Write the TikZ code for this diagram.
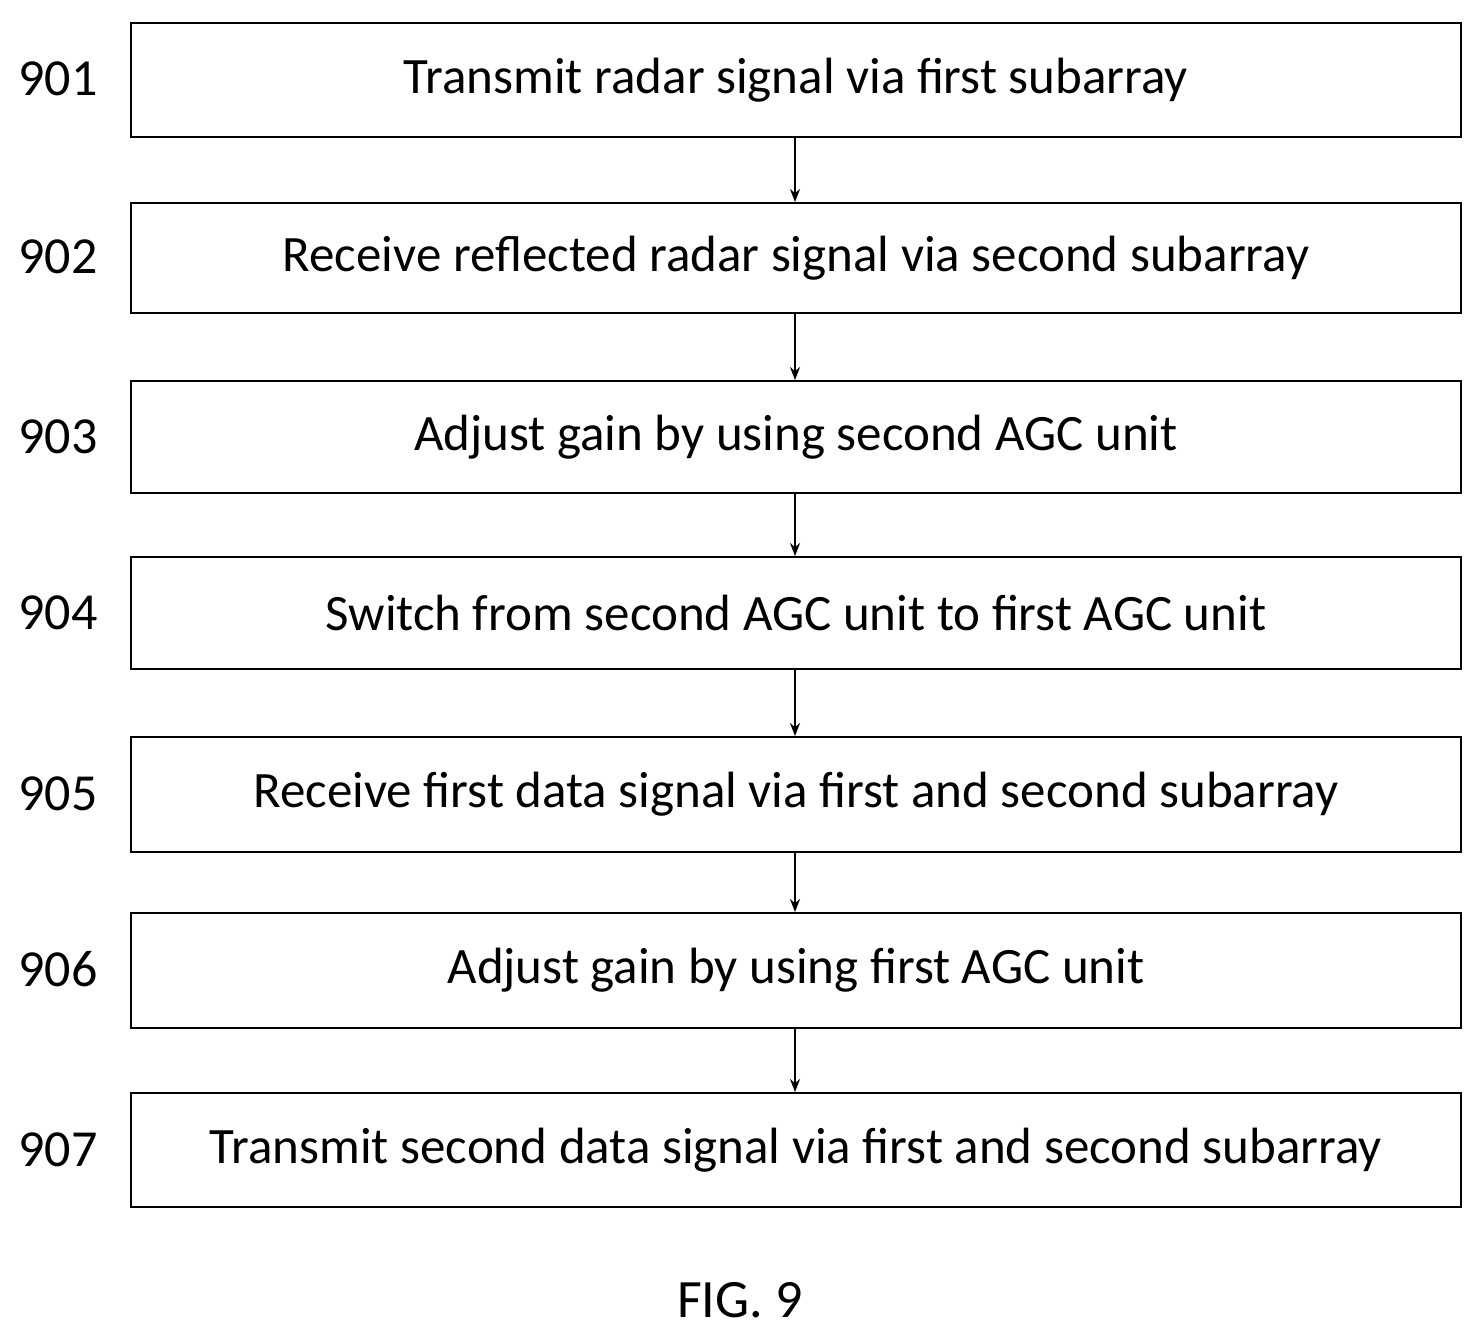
\documentclass[tikz,border=0pt]{standalone}
\usepackage{fontspec}
\setmainfont{Carlito}
\usetikzlibrary{arrows.meta}
\begin{document}
\begin{tikzpicture}[x=1pt,y=-1pt,
  box/.style={draw,line width=2pt,minimum width=1330pt,anchor=north west,inner sep=0pt,font=\fontsize{51}{58}\selectfont},
  lab/.style={font=\fontsize{52}{58}\selectfont,anchor=base},
  arr/.style={-{Stealth[length=13pt,width=10pt]},line width=2pt}]
\useasboundingbox (0,0) rectangle (1482,1337);
\foreach \i/\t/\b/\txt in {1/22/136/Transmit radar signal via first subarray,
2/202/312/Receive reflected radar signal via second subarray,
3/380/492/Adjust gain by using second AGC unit,
4/556/668/Switch from second AGC unit to first AGC unit,
5/736/851/Receive first data signal via first and second subarray,
6/912/1027/Adjust gain by using first AGC unit,
7/1092/1206/Transmit second data signal via first and second subarray}{
  \pgfmathsetmacro{\h}{\b-\t}
  \node[box,minimum height=\h pt] (b\i) at (130,\t) {\txt};
  \node[lab] (l\i) at (58,{(\t+\b)/2+17}) {90\i};
}
\foreach \a/\b in {1/2,2/3,3/4,4/5,5/6,6/7}{
  \draw[arr] (b\a.south -| 795,0) -- (b\b.north -| 795,0);
}
\node[font=\fontsize{54}{60}\selectfont] (fig) at (740,1300) {FIG. 9};
\end{tikzpicture}
\end{document}
